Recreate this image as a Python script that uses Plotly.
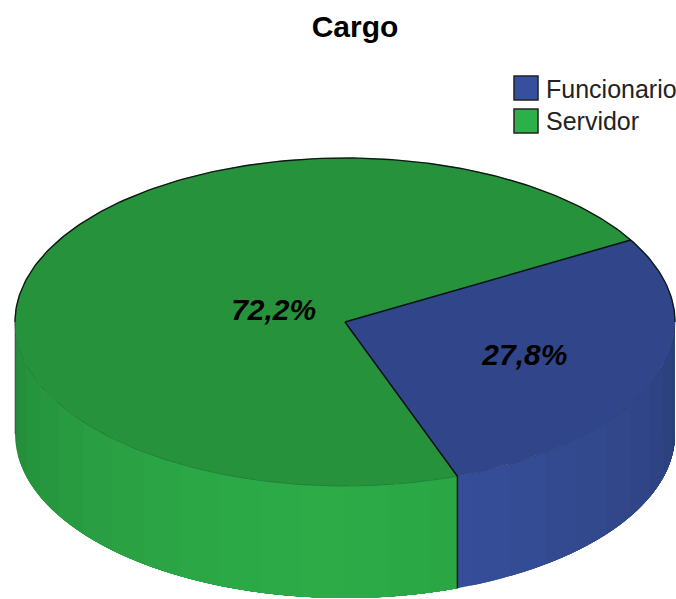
import numpy as np
import plotly.graph_objs as go

# datos
categories = ['Funcionario', 'Servidor']
shares = [27.8, 72.2]
share_labels = ['27,8%', '72,2%']

# colores: cara superior y lateral de cada sector
top_colors = ['#31468a', '#26933c']
side_colors = [(56, 81, 158), (44, 171, 71)]
legend_colors = ['#36509e', '#2cb04a']
label_radius = [0.58, 0.23]

# geometria de la torta, en pixeles de la pagina
cx, cy = 345, 322
rx, ry = 330, 164
depth = 112
start_angle = 30
band_step = 7.5


def ellipse(t, dy=0):
    t = np.radians(t)
    return cx + rx * np.cos(t), cy - ry * np.sin(t) + dy


def shade(rgb, t):
    # mas oscuro hacia los extremos de la pared
    dist = abs((t % 360) - 265) / 95
    m = 1 - 0.24 * dist ** 1.5
    return 'rgb(%d,%d,%d)' % tuple(round(c * m) for c in rgb)


def add_line(fig, x, y, color, width):
    fig.add_trace(go.Scatter(x=x, y=y, mode='lines', hoverinfo='skip',
                             line=dict(color=color, width=width)))


fig = go.Figure()

# limites de cada sector, en sentido horario
sweeps = [s / sum(shares) * 360 for s in shares]
ends = start_angle - np.cumsum(sweeps)
starts = np.r_[start_angle, ends[:-1]]

# pared lateral, por bandas
for i, (a, b) in enumerate(zip(starts, ends)):
    hi, lo = min(a, 0), max(b, -180)
    edges = np.arange(-180, 0 + band_step, band_step)
    edges = np.r_[lo, edges[(edges > lo) & (edges < hi)], hi]
    # cada banda llega hasta el final del sector, para que no queden rendijas
    for t0 in edges[:-1]:
        arc = np.linspace(t0, hi, 40)
        t1 = edges[edges > t0][0]
        x0, y0 = ellipse(arc)
        x1, y1 = ellipse(arc[::-1], depth)
        fig.add_trace(go.Scatter(x=np.r_[x0, x1], y=np.r_[y0, y1], mode='none',
                                 fill='toself', fillcolor=shade(side_colors[i], (t0 + t1) / 2),
                                 hoverinfo='skip'))

# cara superior
for i, (a, b) in enumerate(zip(starts, ends)):
    x, y = ellipse(np.linspace(a, b, 160))
    fig.add_trace(go.Scatter(x=np.r_[cx, x, cx], y=np.r_[cy, y, cy], mode='lines',
                             fill='toself', fillcolor=top_colors[i], hoverinfo='skip',
                             line=dict(color=top_colors[i], width=0.5)))

# contornos
x, y = ellipse(np.linspace(-180, 0, 200))
add_line(fig, x, y, 'rgba(15,50,40,0.3)', 0.7)
x, y = ellipse(np.linspace(0, 180, 200))
add_line(fig, x, y, '#0d1a14', 1.4)
for a in starts:
    x, y = ellipse(a)
    add_line(fig, [cx, x], [cy, y], '#08101a', 1.5)
x, y = ellipse(ends[0])
add_line(fig, [x, x], [y, y + depth], '#0a1a14', 1.5)
x, y = ellipse(180)
add_line(fig, [x, x], [y, y + depth], 'rgba(30,40,35,0.5)', 1)

# porcentajes
mids = (starts + ends) / 2
lx = [cx + r * rx * np.cos(np.radians(m)) for r, m in zip(label_radius, mids)]
ly = [cy - r * ry * np.sin(np.radians(m)) + 3 for r, m in zip(label_radius, mids)]
fig.add_trace(go.Scatter(x=lx, y=ly, mode='text', text=share_labels, hoverinfo='skip',
                         textfont=dict(family='Liberation Sans', size=30, color='black',
                                       weight='bold', style='italic')))

# leyenda
fig.add_trace(go.Scatter(x=[526, 526], y=[88, 121], mode='markers', hoverinfo='skip',
                         marker=dict(symbol='square', size=24, color=legend_colors,
                                     line=dict(color='#222222', width=1.5))))
for name, yy in zip(categories, [89, 121]):
    fig.add_annotation(x=544, y=yy, text=name, showarrow=False, xanchor='left',
                       font=dict(family='Liberation Sans', size=25, color='#222222'))

fig.update_layout(
    title=dict(text='<b>Cargo</b>', x=355 / 676, xanchor='center', y=1 - 26 / 599, yanchor='middle',
               font=dict(family='Liberation Sans', size=30, color='black')),
    width=676, height=599,
    showlegend=False,
    plot_bgcolor='white',
    paper_bgcolor='white',
    margin=dict(l=0, r=0, t=0, b=0),
    xaxis=dict(range=[0, 676], visible=False),
    yaxis=dict(range=[599, 0], visible=False),
    hovermode=False
)

fig.write_html("out.html", config=dict(displayModeBar=False),
               post_script="document.body.style.margin='0';")
